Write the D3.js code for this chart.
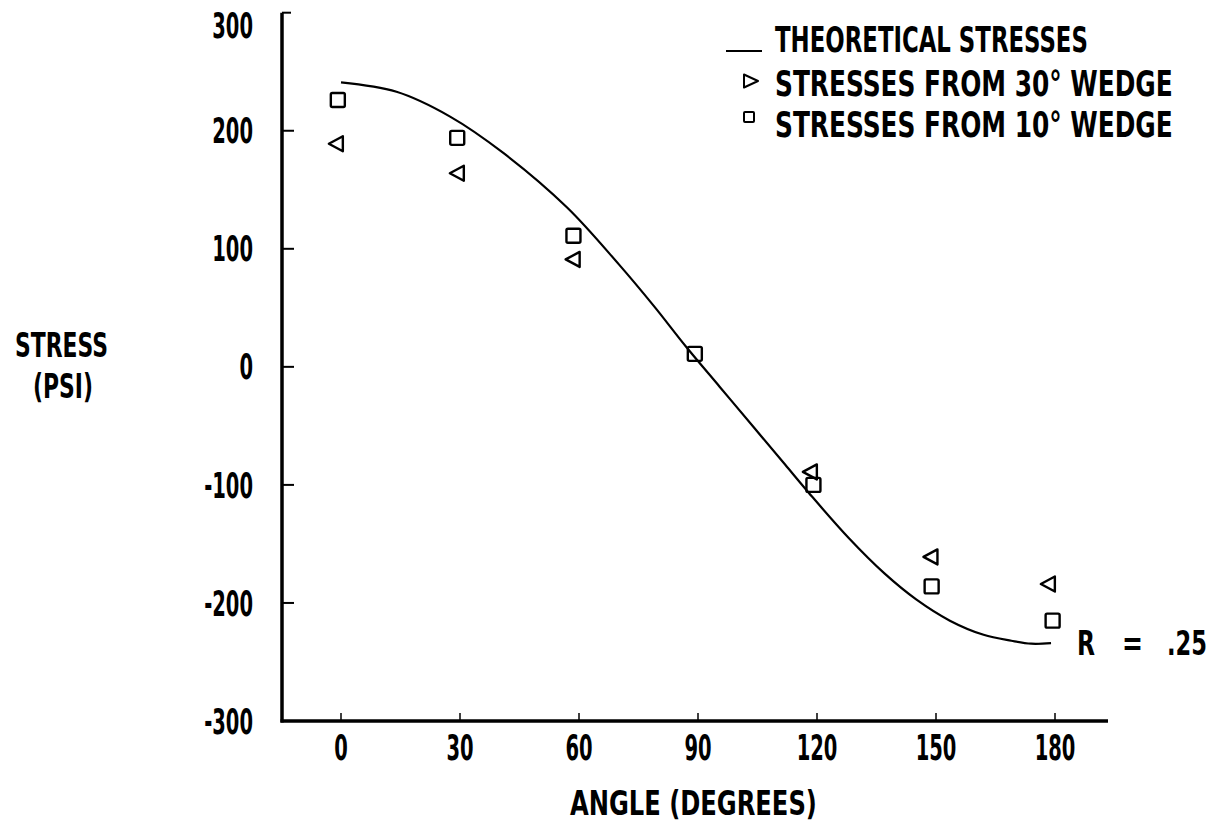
<!DOCTYPE html>
<html><head><meta charset="utf-8">
<script src="https://cdn.jsdelivr.net/npm/d3@7"></script>
<style>
html,body{margin:0;padding:0;background:#fff;}
svg text{font-family:"Liberation Sans Narrow","DejaVu Sans Condensed","DejaVu Sans",sans-serif;font-weight:bold;fill:#000;}
</style></head>
<body>
<svg id="chart" width="1215" height="823"></svg>
<script>
// ---- data ----
const xTicks = [0, 30, 60, 90, 120, 150, 180];
const yTicks = [300, 200, 100, 0, -100, -200, -300];
const theoryAngle  = [0, 14, 27.5, 41, 57, 70, 79, 87, 95.5, 104, 112, 118, 128, 137, 145, 153.5, 162, 169, 174, 179];
const theoryStress = [241, 233, 212, 181, 135, 87, 51, 17, -17, -51, -83, -107, -145, -175, -197, -215, -227, -232, -234.5, -234];
const wedge30Angle  = [-1.3, 29.2, 58.4, 118.2, 148.6, 178.2];
const wedge30Stress = [189, 164, 91, -89, -161, -184];
const wedge10Angle  = [-0.8, 29.3, 58.6, 89.2, 119.1, 148.9, 179.4];
const wedge10Stress = [226, 194, 111, 11, -100, -186, -215];
const legendLabels = ["THEORETICAL STRESSES", "STRESSES FROM 30\u00B0 WEDGE", "STRESSES FROM 10\u00B0 WEDGE"];
const yTitle = ["STRESS", "(PSI)"];
const xTitle = "ANGLE (DEGREES)";
const annotation = ["R", "=", ".25"];

// ---- layout ----
const svg = d3.select("#chart");
const x = d3.scaleLinear().domain([0, 180]).range([341, 1055]);
const y = d3.scaleLinear().domain([-300, 300]).range([721, 12.7]);
const axisX0 = 282, axisX1 = 1108;
const SX = 0.62; // condensed look

// place a text at (tx, ty) and squeeze it horizontally to a given width
function fitText(text, tx, ty, width, size, anchor) {
  const t = svg.append("text").attr("font-size", size).attr("text-anchor", anchor || "start").text(text);
  const len = t.node().getComputedTextLength();
  t.attr("transform", `translate(${tx},${ty}) scale(${width / len},1)`);
  return t;
}

// axes lines
svg.append("line").attr("x1", axisX0).attr("x2", axisX0).attr("y1", y(300)).attr("y2", y(-300) + 1.5)
  .attr("stroke", "#000").attr("stroke-width", 3.5);
svg.append("line").attr("x1", axisX0 - 1.5).attr("x2", axisX1).attr("y1", y(-300)).attr("y2", y(-300))
  .attr("stroke", "#000").attr("stroke-width", 3.5);

// y ticks (inward)
svg.selectAll(".yt").data(yTicks.filter(d => d !== -300)).enter().append("line")
  .attr("x1", axisX0).attr("x2", d => d === 300 ? axisX0 + 9 : axisX0 + 12)
  .attr("y1", d => y(d)).attr("y2", d => y(d)).attr("stroke", "#000").attr("stroke-width", 2);
svg.selectAll(".yl").data(yTicks).enter().append("text")
  .attr("transform", d => `translate(253,${y(d) + (d === 300 ? 13 : 0)}) scale(${SX},1)`)
  .attr("dy", "0.36em").attr("text-anchor", "end").attr("font-size", 35).text(d => d);

// x ticks (inward)
svg.selectAll(".xt").data(xTicks).enter().append("line")
  .attr("x1", d => x(d)).attr("x2", d => x(d)).attr("y1", y(-300)).attr("y2", y(-300) - 8)
  .attr("stroke", "#000").attr("stroke-width", 1.5);
svg.selectAll(".xl").data(xTicks).enter().append("text")
  .attr("transform", d => `translate(${x(d)},760) scale(${SX},1)`)
  .attr("text-anchor", "middle").attr("font-size", 35).text(d => d);

// titles
fitText(xTitle, 570, 815, 247, 34);
fitText(yTitle[0], 15, 357, 93, 34);
fitText(yTitle[1], 33, 398, 60, 34);

// theoretical curve
const curvePts = theoryAngle.map((a, i) => [a, theoryStress[i]]);
svg.append("path").datum(curvePts)
  .attr("d", d3.line().x(d => x(d[0])).y(d => y(d[1])).curve(d3.curveCatmullRom.alpha(0.5)))
  .attr("fill", "none").attr("stroke", "#000").attr("stroke-width", 2.2);

// markers
const triLeft = (cx, cy, w, h) => `M${cx + w/2},${cy - h/2} L${cx - w/2},${cy} L${cx + w/2},${cy + h/2} Z`;
const triRight = (cx, cy, w, h) => `M${cx - w/2},${cy - h/2} L${cx + w/2},${cy} L${cx - w/2},${cy + h/2} Z`;
svg.selectAll(".tri").data(wedge30Angle.map((a, i) => [a, wedge30Stress[i]])).enter().append("path")
  .attr("d", d => triLeft(x(d[0]), y(d[1]), 14, 15))
  .attr("fill", "none").attr("stroke", "#000").attr("stroke-width", 2.4).attr("stroke-linejoin", "round");
svg.selectAll(".sq").data(wedge10Angle.map((a, i) => [a, wedge10Stress[i]])).enter().append("rect")
  .attr("x", d => x(d[0]) - 7).attr("y", d => y(d[1]) - 7).attr("width", 14).attr("height", 14).attr("rx", 1.5)
  .attr("fill", "none").attr("stroke", "#000").attr("stroke-width", 2.4);

// legend
svg.append("line").attr("x1", 726).attr("x2", 762).attr("y1", 51).attr("y2", 51).attr("stroke", "#000").attr("stroke-width", 1.8);
svg.append("path").attr("d", triRight(751, 81, 14, 13)).attr("fill", "none").attr("stroke", "#000").attr("stroke-width", 2).attr("stroke-linejoin", "round");
svg.append("rect").attr("x", 744).attr("y", 112).attr("width", 10).attr("height", 10).attr("rx", 1).attr("fill", "none").attr("stroke", "#000").attr("stroke-width", 2);
legendLabels.forEach((d, i) => fitText(d, 775, [52, 96, 137][i], [313, 398, 398][i], 35));

// annotation "R = .25"
annotation.forEach((d, i) => fitText(d, [1077, 1122, 1167][i], 655, [18, 21, 40][i], 34));
</script>
</body></html>
